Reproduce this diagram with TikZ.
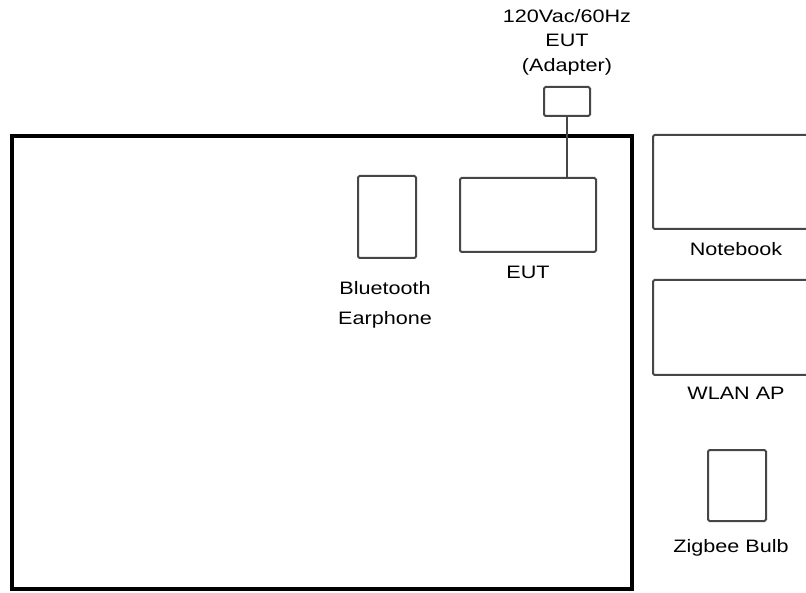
\documentclass[tikz,border=0pt]{standalone}
\usepackage{fontspec}
\setmainfont{Liberation Sans}[FakeStretch=1.2]
\usetikzlibrary{positioning}
\definecolor{boxgray}{RGB}{70,70,70}

\begin{document}
\begin{tikzpicture}[x=1pt,y=-1pt,
  every node/.style={font=\fontsize{18}{24.5}\selectfont},
  device/.style={draw=boxgray,line width=2pt,rounded corners=1.5pt,fill=white,inner sep=0pt},
  label/.style={align=center,inner sep=0pt}]
\useasboundingbox (0,0) rectangle (806,593);
\clip (0,0) rectangle (806,593);
% test table
\node[draw,line width=4pt,inner sep=0pt,minimum width=620pt,minimum height=453pt] (table) at (322,362.5) {};
% devices
\node[device,minimum width=46pt,minimum height=29pt]   (adapter)  at (567,101.5) {};
\node[device,minimum width=136pt,minimum height=74pt]  (eut)      at (528,215)   {};
\node[device,minimum width=58pt,minimum height=82pt]   (bt)       at (387,217)   {};
\node[device,minimum width=159pt,minimum height=94pt]  (notebook) at (732.5,182) {};
\node[device,minimum width=159pt,minimum height=95pt]  (wlan)     at (732.5,327.5) {};
\node[device,minimum width=58pt,minimum height=71pt]   (zigbee)   at (737,485.5) {};
\draw[boxgray,line width=2pt] (adapter.south) -- (adapter.south |- eut.north);
% labels
\node[label] (adapterlbl) at (567,42)  {120Vac/60Hz\\EUT\\(Adapter)};
\node[label] (eutlbl)     at (528,272) {EUT};
\node[label] (btlbl)      at (385,305) {Bluetooth\\[6pt]Earphone};
\node[label] (nblbl)      at (736,249) {Notebook};
\node[label] (wlanlbl)    at (736,393) {WLAN AP};
\node[label] (zblbl)      at (731,548) {Zigbee Bulb};
\end{tikzpicture}
\end{document}
